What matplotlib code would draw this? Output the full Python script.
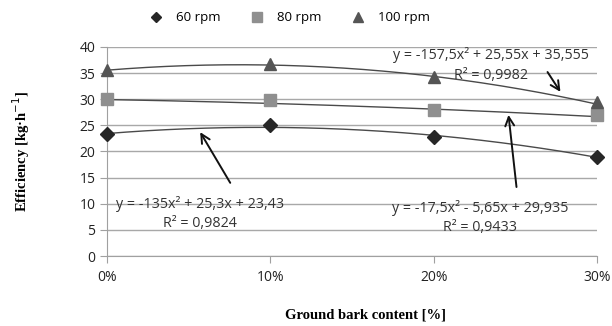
import numpy as np
import matplotlib
matplotlib.use("Agg")
import matplotlib.pyplot as plt

content = [0.0, 0.1, 0.2, 0.3]
xtick_labels = ["0%", "10%", "20%", "30%"]
rpm60 = [23.4, 25.0, 22.8, 19.0]
rpm80 = [30.0, 29.8, 27.9, 27.0]
rpm100 = [35.6, 36.8, 34.2, 29.4]
coef60 = [-135.0, 25.3, 23.43]
coef80 = [-17.5, -5.65, 29.935]
coef100 = [-157.5, 25.55, 35.555]

plt.rcParams['font.family'] = ['Open Sans', 'DejaVu Sans']

fig = plt.figure(figsize=(6.12, 3.26), dpi=100)
ax = fig.add_axes([0.175, 0.2147, 0.8005, 0.6413])

xs = np.linspace(0, 0.3, 200)
for coef in (coef60, coef80, coef100):
    ax.plot(xs, np.polyval(coef, xs), color='#4a4a4a', lw=1.0, zorder=2)

h1, = ax.plot(content, rpm60, ls='none', marker='D', ms=7, color='#262626', clip_on=False, zorder=3, label='60 rpm')
h2, = ax.plot(content, rpm80, ls='none', marker='s', ms=9, color='#8f8f8f', clip_on=False, zorder=3, label='80 rpm')
h3, = ax.plot(content, rpm100, ls='none', marker='^', ms=9, color='#555555', clip_on=False, zorder=3, label='100 rpm')

ax.set_xlim(0, 0.3)
ax.set_ylim(0, 40)
ax.set_yticks(range(0, 41, 5))
ax.set_xticks(content)
ax.set_xticklabels(xtick_labels)
ax.yaxis.grid(True, color='#a8a8a8', lw=1.0)
ax.set_axisbelow(True)
for s in ('top', 'right'):
    ax.spines[s].set_visible(False)
for s in ('left', 'bottom'):
    ax.spines[s].set_color('#a0a0a0')
ax.tick_params(axis='both', colors='#a0a0a0', labelcolor='#222222', labelsize=10, length=5)
ax.tick_params(axis='x', pad=5)

ax.set_xlabel('Ground bark content [%]', family='Liberation Serif', fontweight='bold', fontsize=10.5, labelpad=14)
ax.xaxis.set_label_coords(0.527, -0.25)
ax.set_ylabel('Efficiency [kg·h$^{-1}$]', family='Liberation Serif', fontweight='bold', fontsize=10.5, labelpad=34)

tk = dict(fontsize=10.3, color='#333333', ha='center', va='center')
ax.text(0.2353, 38.5, 'y = -157,5x² + 25,55x + 35,555', **tk)
ax.text(0.235, 34.6, 'R² = 0,9982', **tk)
ax.text(0.057, 10.0, 'y = -135x² + 25,3x + 23,43', **tk)
ax.text(0.057, 6.3, 'R² = 0,9824', **tk)
ax.text(0.2286, 9.2, 'y = -17,5x² - 5,65x + 29,935', **tk)
ax.text(0.2286, 5.4, 'R² = 0,9433', **tk)

ap = dict(arrowstyle='->', color='#111111', lw=1.4, mutation_scale=16, shrinkA=0, shrinkB=0)
ax.annotate('', xy=(0.2776, 31.4), xytext=(0.2697, 35.2), arrowprops=ap)
ax.annotate('', xy=(0.2458, 27.0), xytext=(0.2507, 13.2), arrowprops=ap)
ax.annotate('', xy=(0.057, 23.7), xytext=(0.0754, 14.0), arrowprops=ap)

fig.legend(handles=[h1, h2, h3], loc='center', bbox_to_anchor=(0.468, 0.945), ncol=3,
           frameon=False, fontsize=9.5, columnspacing=1.8, handletextpad=0.5,
           markerscale=0.8)

fig.savefig('out.png', dpi=100)
